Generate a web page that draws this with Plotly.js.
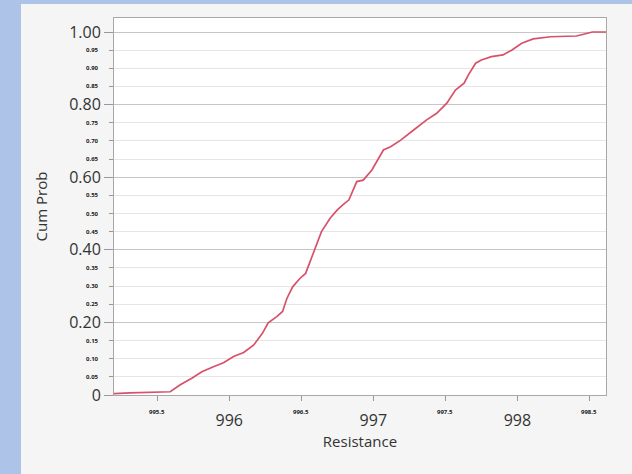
<!DOCTYPE html>
<html>
<head>
<meta charset="utf-8">
<script src="https://cdn.plot.ly/plotly-3.0.1.min.js"></script>
<style>
  html, body { margin: 0; padding: 0; width: 632px; height: 474px; overflow: hidden; background: #adc3e8; }
  #panel { position: absolute; left: 21px; top: 4px; width: 611px; height: 470px; background: #f5f5f5; }
  #chart { width: 611px; height: 470px; }
</style>
</head>
<body>
<div id="panel"><div id="chart"></div></div>
<script>
// Empirical cumulative distribution of resistance readings
const resistance = [
  995.20, 995.31, 995.59, 995.66, 995.74, 995.81, 995.89, 995.96, 996.03, 996.10,
  996.17, 996.23, 996.27, 996.33, 996.37, 996.40, 996.44, 996.49, 996.53, 996.56,
  996.62, 996.64, 996.70, 996.75, 996.80, 996.83, 996.885, 996.93, 996.99, 997.07,
  997.12, 997.19, 997.28, 997.37, 997.44, 997.51, 997.57, 997.63, 997.66, 997.71,
  997.75, 997.82, 997.90, 997.96, 998.03, 998.11, 998.23, 998.41, 998.48, 998.52,
  998.62
];
const cumProb = [
  0.004, 0.006, 0.009, 0.028, 0.046, 0.064, 0.078, 0.089, 0.106, 0.117,
  0.138, 0.170, 0.199, 0.216, 0.230, 0.266, 0.298, 0.321, 0.335, 0.367,
  0.427, 0.450, 0.487, 0.510, 0.528, 0.537, 0.588, 0.592, 0.620, 0.675,
  0.684, 0.702, 0.730, 0.758, 0.776, 0.804, 0.840, 0.859, 0.882, 0.914,
  0.923, 0.932, 0.937, 0.950, 0.969, 0.981, 0.987, 0.989, 0.996, 1.000,
  1.000
];

// Axis ticks
const majorY = [0, 0.2, 0.4, 0.6, 0.8, 1.0];
const majorYText = ['0', '0.20', '0.40', '0.60', '0.80', '1.00'];
const minorY = [0.05, 0.10, 0.15, 0.25, 0.30, 0.35, 0.45, 0.50, 0.55, 0.65, 0.70, 0.75, 0.85, 0.90, 0.95];
const majorX = [996, 997, 998];
const majorXText = ['996', '997', '998'];
const minorX = [995.5, 996.5, 997.5, 998.5];

const FONT = '"Open Sans", "Noto Sans", sans-serif';
const SMALL = { family: FONT, size: 6, color: '#1a1a1a', weight: 'bold' };

const annotations = [];
minorY.forEach(v => annotations.push({
  xref: 'paper', yref: 'y', x: -0.026, y: v,
  xanchor: 'right', yanchor: 'middle', showarrow: false,
  text: v.toFixed(2), font: SMALL
}));
minorX.forEach(v => annotations.push({
  xref: 'x', yref: 'paper', x: v, y: -0.03,
  xanchor: 'center', yanchor: 'top', showarrow: false,
  text: v.toFixed(1), font: SMALL
}));

const trace = {
  x: resistance, y: cumProb,
  type: 'scatter', mode: 'lines',
  line: { color: '#d9506a', width: 1.7 },
  hoverinfo: 'skip'
};

const layout = {
  width: 611, height: 470,
  margin: { l: 93, r: 26, t: 14, b: 79 },
  paper_bgcolor: '#f5f5f5',
  plot_bgcolor: '#ffffff',
  showlegend: false,
  font: { family: FONT, color: '#333' },
  xaxis: {
    range: [995.2, 998.615],
    tickmode: 'array', tickvals: majorX, ticktext: majorXText,
    ticks: 'outside', ticklen: 5, tickcolor: '#999',
    ticklabelstandoff: 6,
    tickfont: { family: FONT, size: 16, color: '#333' },
    minor: { tickmode: 'array', tickvals: minorX, ticks: 'outside', ticklen: 5, tickcolor: '#999', showgrid: false },
    showgrid: false, zeroline: false,
    showline: true, mirror: true, linecolor: '#a8a8a8', linewidth: 1,
    title: { text: 'Resistance', font: { family: FONT, size: 15, color: '#333' }, standoff: 2 }
  },
  yaxis: {
    range: [0, 1.0386],
    tickmode: 'array', tickvals: majorY, ticktext: majorYText,
    ticks: 'outside', ticklen: 9, tickcolor: '#999',
    tickfont: { family: FONT, size: 16, color: '#333' },
    minor: { tickmode: 'array', tickvals: minorY, ticks: 'outside', ticklen: 4, tickcolor: '#999',
             showgrid: true, gridcolor: '#e6e6e6', gridwidth: 1 },
    showgrid: true, gridcolor: '#c6c6c6', gridwidth: 1,
    zeroline: false,
    showline: true, mirror: true, linecolor: '#a8a8a8', linewidth: 1,
    title: { text: 'Cum Prob', font: { family: FONT, size: 15, color: '#333' }, standoff: 17 }
  },
  annotations: annotations
};

Plotly.newPlot('chart', [trace], layout, { displayModeBar: false, staticPlot: true });
</script>
</body>
</html>
